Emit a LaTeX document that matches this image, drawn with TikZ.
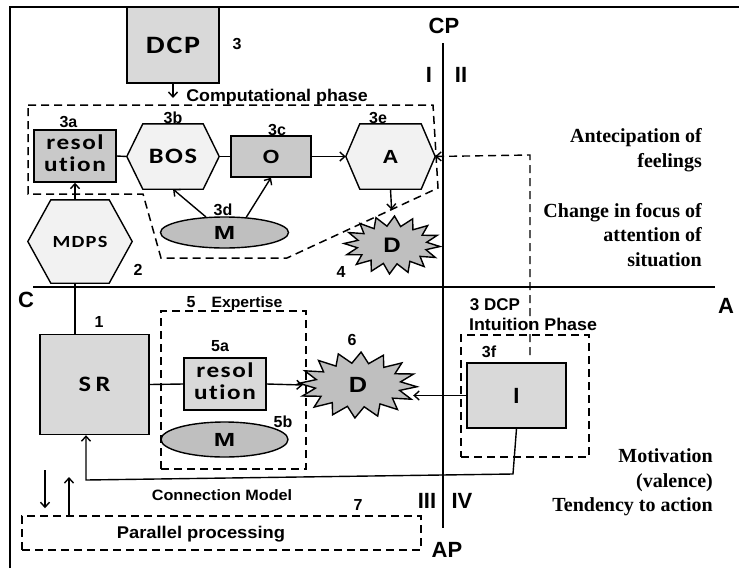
\documentclass[tikz,border=0pt]{standalone}
\usepackage{fontspec}
\usepackage{graphicx}
\setmainfont{Liberation Serif}
\newfontfamily\ArialF{Liberation Sans}
\newfontfamily\CalF{Carlito}[LetterSpace=6,Ligatures={NoCommon}]
\usetikzlibrary{arrows.meta,backgrounds,shapes.geometric}
\definecolor{gA}{HTML}{D9D9D9}
\definecolor{gB}{HTML}{C9C9C9}
\definecolor{gC}{HTML}{F2F2F2}
\definecolor{gD}{HTML}{BFBFBF}
\newcommand\Sx[2][1.2]{\scalebox{#1}[1]{#2}}
\newcommand\HexBg[3]{\begin{pgfonlayer}{background}\draw[outl, fill=#3] (#1.west) -- ([xshift=#2pt]#1.north west) -- ([xshift=-#2pt]#1.north east) -- (#1.east) -- ([xshift=-#2pt]#1.south east) -- ([xshift=#2pt]#1.south west) -- cycle;\end{pgfonlayer}}
\newcommand\BurstBg[5]{\begin{pgfonlayer}{background}\begin{scope}[shift={(#1.center)}]\draw[outl, fill=gD] plot[samples at={0,...,31}] ({(#2*(1-mod(\x,2))+#4*mod(\x,2))*cos(\x*11.25+3)}, {(#3*(1-mod(\x,2))+#5*mod(\x,2))*sin(\x*11.25+3)}) -- cycle;\end{scope}\end{pgfonlayer}}
\tikzset{
 outl/.style={draw=black, line width=1.4pt},
 boxn/.style={outl, rectangle, inner sep=0pt},
 plain/.style={inner sep=0pt},
 dsh/.style={draw=black, line width=1.5pt, dash pattern=on 8pt off 5pt},
 arr/.style={line width=1.4pt, -{Straight Barb[length=5pt,width=9pt]}},
 ln/.style={line width=1.4pt},
 num/.style={inner sep=0pt, anchor=base, font=\ArialF\bfseries\fontsize{16}{16}\selectfont},
 axl/.style={inner sep=0pt, anchor=base, font=\ArialF\bfseries\fontsize{22}{22}\selectfont},
 calt/.style={font=\CalF\bfseries\fontsize{21}{22}\selectfont},
 tms/.style={inner sep=0pt, anchor=base east, font=\bfseries\fontsize{20}{20}\selectfont},
 midl/.style={inner sep=0pt, anchor=base, font=\ArialF\bfseries\fontsize{17}{17}\selectfont},
}
\begin{document}
\begin{tikzpicture}[x=1pt,y=-1pt]
\useasboundingbox (0,0) rectangle (739,568);
% frame
\draw[line width=1.6pt] (10,568) -- (10,7) -- (739,7);
% axes
\coordinate (axL) at (33,287); \coordinate (axR) at (715,287);
\coordinate (axT) at (443,43); \coordinate (axB) at (443,528);
\draw[line width=1.6pt] (axL) -- (axR);
\draw[line width=1.6pt] (axT) -- (axB);
\node[axl] (lcp) at (444,33) {CP};
\node[axl] (lap) at (447,557) {AP};
\node[axl] (lc) at (26,307) {C};
\node[axl] (la) at (726,313) {A};
\node[axl] (q1) at (429,82) {I};
\node[axl] (q2) at (461,82) {II};
\node[axl] (q3) at (427,508) {III};
\node[axl] (q4) at (462,508) {IV};
% DCP
\node[boxn, fill=gA, minimum width=92pt, minimum height=76pt, font=\CalF\bfseries\fontsize{25}{25}\selectfont] (dcp) at (173,45) {\Sx{DCP}};
\node[num] (n3) at (237,49) {3};
\coordinate (cpin) at (173,98);
\draw[arr] (dcp.south) -- (cpin);
% computational phase region
\draw[dsh] (28,105) -- (433,105) -- (438,188) -- (287,258) -- (161,258) -- (143,194) -- (28,194) -- cycle;
\node[midl] (cph) at (277,101) {\Sx[1.05]{Computational phase}};
% 3a resolution
\node[boxn, fill=gB, minimum width=82pt, minimum height=52pt, calt] (r3a) at (75,156) {\Sx{\begin{tabular}{@{}c@{}}resol\\ution\end{tabular}}};
\node[num] (n3a) at (68.5,127) {3a};
% BOS
\node[plain, minimum width=92pt, minimum height=65pt, font=\CalF\bfseries\fontsize{22}{22}\selectfont] (bos) at (173,156.5) {\Sx{BOS}};
\HexBg{bos}{16}{gC}
\node[num] (n3b) at (173,123) {3b};
% O
\node[boxn, fill=gB, minimum width=80pt, minimum height=41pt, font=\ArialF\bfseries\fontsize{19}{19}\selectfont] (o) at (271,156.5) {\Sx[1.15]{O}};
\node[num] (n3c) at (277,135) {3c};
% A
\node[plain, minimum width=89pt, minimum height=65pt, font=\ArialF\bfseries\fontsize{19}{19}\selectfont] (ahex) at (390.5,156.5) {\Sx[1.15]{A}};
\HexBg{ahex}{14}{gC}
\node[num] (n3e) at (378,123) {3e};
% M 3d
\node[ellipse, outl, fill=gD, inner sep=0pt, minimum width=128pt, minimum height=31pt, font=\ArialF\bfseries\fontsize{19}{19}\selectfont] (m3d) at (224.5,232.5) {\Sx[1.35]{M}};
\node[num] (n3d) at (223,215) {3d};
% D 4
\node[plain, minimum width=94pt, minimum height=56pt, font=\ArialF\bfseries\fontsize{21}{21}\selectfont] (d4) at (392,245) {\Sx[1.15]{D}};
\BurstBg{d4}{48}{29}{35}{19}
\node[num] (n4) at (341,277) {4};
% MDPS
\node[plain, minimum width=104pt, minimum height=83pt, font=\CalF\bfseries\fontsize{17}{17}\selectfont] (mdps) at (80,241.5) {\Sx{MDPS}};
\HexBg{mdps}{23}{gC}
\node[num] (n2) at (138,275) {2};
% connectors upper part
\draw[ln] (r3a.east) -- (bos.west);
\draw[ln] (bos.east) -- (o.west);
\draw[arr] (o.east) -- (ahex.west);
\draw[arr] (m3d.140) -- (bos.south);
\draw[arr] (m3d.35) -- (o.south);
\draw[arr, shorten >=7pt] (ahex.south) -- (d4.north);
\draw[arr] (mdps.north -| r3a.south) -- (r3a.south);
% feedback dashed
\coordinate (fb1) at (530,355); \coordinate (fb2) at (530,155);
\draw[dsh, arr] (fb1) -- (fb2) -- (ahex.east);
% right texts
\node[tms] (t1) at (702,142) {Antecipation of};
\node[tms] (t2) at (702,167) {feelings};
\node[tms] (t3) at (702,217) {Change in focus of};
\node[tms] (t4) at (702,241) {attention of};
\node[tms] (t5) at (702,266) {situation};
\node[tms] (t6) at (713,462) {Motivation};
\node[tms] (t7) at (713,487) {(valence)};
\node[tms] (t8) at (713,511) {Tendency to action};
% SR
\node[boxn, fill=gA, minimum width=109pt, minimum height=100pt, font=\CalF\bfseries\fontsize{22}{22}\selectfont] (sr) at (94.5,384.5) {\Sx{S\,R}};
\node[num] (n1) at (99,327) {1};
\draw[ln] (mdps.south -| r3a.south) -- (sr.north -| r3a.south);
% Expertise
\node[dsh, rectangle, inner sep=0pt, minimum width=145pt, minimum height=158pt] (exb) at (233.5,390) {};
\node[num] (n5) at (191,307) {5};
\node[midl, font=\ArialF\bfseries\fontsize{15}{15}\selectfont] (lex) at (247,307) {\Sx[1.05]{Expertise}};
\node[boxn, fill=gA, minimum width=82pt, minimum height=52pt, calt] (r5a) at (225,384) {\Sx{\begin{tabular}{@{}c@{}}resol\\ution\end{tabular}}};
\node[num] (n5a) at (220,351) {5a};
\node[ellipse, outl, fill=gD, inner sep=0pt, minimum width=127pt, minimum height=35pt, font=\ArialF\bfseries\fontsize{19}{19}\selectfont] (m5b) at (224.5,439.5) {\Sx[1.35]{M}};
\node[num] (n5b) at (283,427) {5b};
% D 6
\node[plain, minimum width=110pt, minimum height=64pt, font=\ArialF\bfseries\fontsize{22}{22}\selectfont] (d6) at (358,385) {\Sx[1.15]{D}};
\BurstBg{d6}{59}{33}{43}{22}
\node[num] (n6) at (352,345) {6};
\draw[ln] (sr.east) -- (r5a.west);
\draw[arr] (r5a.east) -- (d6.west);
% Intuition
\node[midl] (l3dcp) at (495,310) {3 DCP};
\node[midl] (lint) at (533,330) {\Sx[1.05]{Intuition Phase}};
\node[dsh, rectangle, inner sep=0pt, minimum width=128pt, minimum height=122pt] (inb) at (525,396) {};
\node[num] (n3f) at (489,357) {3f};
\node[boxn, fill=gA, minimum width=99pt, minimum height=65pt, font=\ArialF\bfseries\fontsize{22}{22}\selectfont] (ib) at (516.5,395.5) {I};
\draw[arr] (ib.west) -- (ib.west -| d6.east);
\coordinate (c1) at (513,474); \coordinate (c2) at (86,480);
\draw[arr] (ib.south) -- (c1) -- (c2) -- (c2 |- sr.south);
% connection model / parallel processing
\node[midl, font=\ArialF\bfseries\fontsize{15}{15}\selectfont] (lcm) at (222,500) {\Sx[1.08]{Connection Model}};
\node[num] (n7) at (358,510) {7};
\node[dsh, rectangle, inner sep=0pt, minimum width=399pt, minimum height=34pt] (ppb) at (221.5,533) {};
\node[midl] (lpp) at (201,538) {\Sx[1.08]{Parallel processing}};
\coordinate (pd) at (45,470); \coordinate (pu) at (69,477);
\draw[arr, shorten >=7pt] (pd) -- (pd |- ppb.north);
\draw[arr] (pu |- ppb.north) -- (pu);
\end{tikzpicture}
\end{document}
